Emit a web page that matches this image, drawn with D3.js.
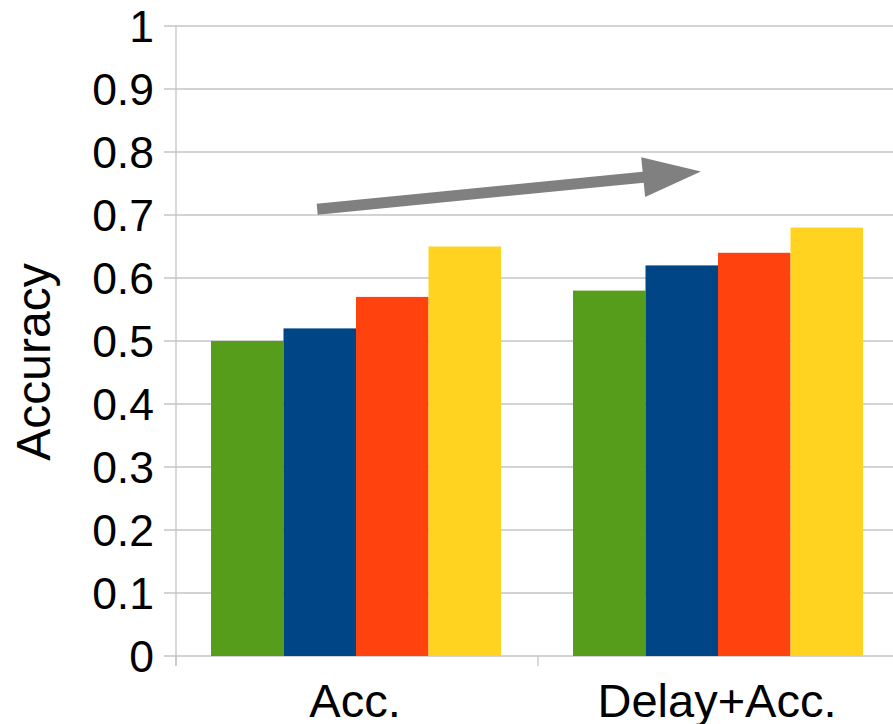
<!DOCTYPE html>
<html><head><meta charset="utf-8">
<script src="https://cdn.jsdelivr.net/npm/d3@7"></script>
<style>body{margin:0;background:#fff}svg{display:block}text{font-family:"Liberation Sans",Arial,sans-serif;fill:#000}</style>
</head><body><svg id="c" width="893" height="724"></svg>
<script>
const categories = ["Acc.", "Delay+Acc."];
const seriesNames = ["S1", "S2", "S3", "S4"];
const seriesColors = ["#579d1c", "#004586", "#ff420e", "#ffd320"];
const values = [
  [0.50, 0.52, 0.57, 0.65],
  [0.58, 0.62, 0.64, 0.68]
];
const yTicks = [0, 0.1, 0.2, 0.3, 0.4, 0.5, 0.6, 0.7, 0.8, 0.9, 1];
const yTickLabels = ["0", "0.1", "0.2", "0.3", "0.4", "0.5", "0.6", "0.7", "0.8", "0.9", "1"];
// trend arrow endpoints in data space: [x fraction across plot, value]
const arrowFrom = [0.195, 0.709];
const arrowTo = [0.725, 0.769];

(function () {
const svg = d3.select("#c");
const pL = 176, pR = 900, pT = 26, pB = 656;
const x = d3.scaleBand().domain(categories).range([pL, pR]).padding(0);
const xi = d3.scaleBand().domain(seriesNames).range([35, x.bandwidth() - 37]).padding(0);
const y = d3.scaleLinear().domain([0, 1]).range([pB, pT]);
const grid = "#c4c4c4";

svg.append("g").selectAll("line").data(yTicks).join("line")
  .attr("x1", pL - 12).attr("x2", pR)
  .attr("y1", d => y(d)).attr("y2", d => y(d))
  .attr("stroke", grid).attr("stroke-width", 1.3);

svg.append("g").selectAll("text").data(yTicks).join("text")
  .attr("x", 154).attr("y", d => y(d)).attr("dy", "0.36em")
  .attr("text-anchor", "end").style("font-size", "44.5px")
  .text((d, i) => yTickLabels[i]);

svg.append("line").attr("x1", pL).attr("x2", pL).attr("y1", pT).attr("y2", pB + 10)
  .attr("stroke", grid).attr("stroke-width", 1.3);
const bounds = categories.map(c => x(c)).concat([pR]);
svg.append("g").selectAll("line").data(bounds).join("line")
  .attr("x1", d => d).attr("x2", d => d).attr("y1", pB).attr("y2", pB + 10)
  .attr("stroke", grid).attr("stroke-width", 1.3);

const g = svg.append("g").selectAll("g").data(categories).join("g")
  .attr("transform", c => `translate(${x(c)},0)`);
g.selectAll("rect").data((c, ci) => values[ci].map((v, si) => ({v, s: seriesNames[si], si})))
  .join("rect")
  .attr("x", d => xi(d.s)).attr("width", xi.bandwidth())
  .attr("y", d => y(d.v)).attr("height", d => pB - y(d.v))
  .attr("fill", d => seriesColors[d.si]);

svg.append("g").selectAll("text").data(categories).join("text")
  .attr("x", c => x(c) + x.bandwidth() / 2 - 2).attr("y", 717)
  .attr("text-anchor", "middle").style("font-size", "47px").text(c => c);

svg.append("text").attr("transform", "translate(50,362) rotate(-90)")
  .attr("text-anchor", "middle").style("font-size", "48px").text("Accuracy");

const ax = d3.scaleLinear().domain([0, 1]).range([pL, pR]);
const x0 = ax(arrowFrom[0]), y0 = y(arrowFrom[1]);
const x1 = ax(arrowTo[0]), y1 = y(arrowTo[1]);
const ang = Math.atan2(y1 - y0, x1 - x0);
const len = Math.hypot(x1 - x0, y1 - y0);
const headL = 58, headW = 40, shaftW = 11;
const arrow = svg.append("g").attr("transform", `translate(${x0},${y0}) rotate(${ang * 180 / Math.PI})`);
arrow.append("path")
  .attr("d", `M0,${-shaftW/2} L${len-headL},${-shaftW/2} L${len-headL},${-headW/2} L${len},0 L${len-headL},${headW/2} L${len-headL},${shaftW/2} L0,${shaftW/2} Z`)
  .attr("fill", "#808080");
})();
</script></body></html>
